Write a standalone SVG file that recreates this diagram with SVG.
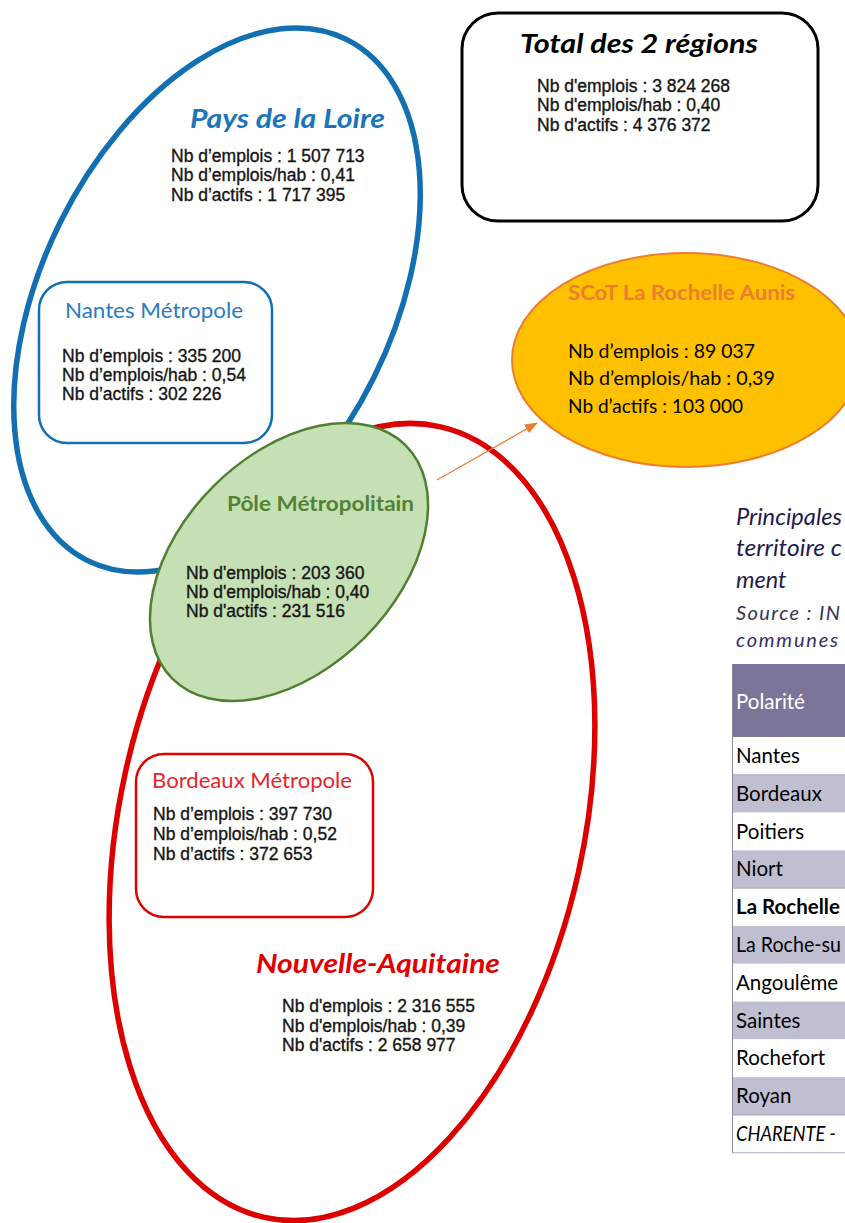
<svg xmlns="http://www.w3.org/2000/svg" width="845" height="1223" viewBox="0 0 845 1223">
<defs>
<marker id="arr" markerWidth="13" markerHeight="10" refX="12" refY="5" orient="auto" markerUnits="userSpaceOnUse"><path d="M0,0 L13,5 L0,10 z" fill="#ED7D31"/></marker>
<style>
.ar{font-family:"Liberation Sans",Arial,sans-serif;font-size:17.5px;fill:#151515;stroke:#151515;stroke-width:0.35px}
.cal{font-family:Lato,"Open Sans",sans-serif}
.bi{font-family:Lato,"Open Sans",sans-serif;font-weight:bold;font-style:italic;font-size:26px}
.tb{font-family:Lato,"Open Sans",sans-serif;font-size:20.5px;fill:#000}
.gray{fill:#C0BFD2}
.white{fill:#fff}
.sep{stroke:#A9A8BC;stroke-width:1}
</style>
</defs>
<rect width="845" height="1223" fill="#fff"/>

<g id="pays-de-la-loire">
<ellipse cx="217" cy="300" rx="175" ry="291" transform="rotate(26.4 217 300)" fill="none" stroke="#1270B2" stroke-width="5.5"/>
<text class="bi" x="190" y="128" fill="#1A75BB" textLength="195" lengthAdjust="spacingAndGlyphs">Pays de la Loire</text>
<text class="ar" x="171" y="162">Nb d’emplois : 1 507 713</text>
<text class="ar" x="171" y="181">Nb d’emplois/hab : 0,41</text>
<text class="ar" x="171" y="201">Nb d’actifs : 1 717 395</text>
</g>

<g id="nouvelle-aquitaine">
<ellipse cx="352" cy="822" rx="232" ry="405" transform="rotate(12.5 352 822)" fill="none" stroke="#DD0000" stroke-width="5.5"/>
<text class="bi" x="256" y="973" fill="#E00000" textLength="244" lengthAdjust="spacingAndGlyphs">Nouvelle-Aquitaine</text>
<text class="ar" x="282" y="1012">Nb d'emplois : 2 316 555</text>
<text class="ar" x="282" y="1032">Nb d'emplois/hab : 0,39</text>
<text class="ar" x="282" y="1051">Nb d'actifs : 2 658 977</text>
</g>

<g id="nantes-metropole">
<rect x="39" y="282" width="233" height="161" rx="28" fill="#fff" stroke="#1270B2" stroke-width="2.5"/>
<text class="cal" x="65" y="318" font-size="21.8" fill="#2B7BBE" textLength="178" lengthAdjust="spacingAndGlyphs">Nantes Métropole</text>
<text class="ar" x="62" y="362">Nb d’emplois : 335 200</text>
<text class="ar" x="62" y="381">Nb d’emplois/hab : 0,54</text>
<text class="ar" x="62" y="400">Nb d’actifs : 302 226</text>
</g>

<g id="bordeaux-metropole">
<rect x="136" y="754" width="237" height="163" rx="28" fill="#fff" stroke="#E00000" stroke-width="2.5"/>
<text class="cal" x="152" y="788" font-size="21.8" fill="#E3262A" textLength="200" lengthAdjust="spacingAndGlyphs">Bordeaux Métropole</text>
<text class="ar" x="153" y="820">Nb d’emplois : 397 730</text>
<text class="ar" x="153" y="840">Nb d’emplois/hab : 0,52</text>
<text class="ar" x="153" y="860">Nb d’actifs : 372 653</text>
</g>

<g id="pole-metropolitain">
<ellipse cx="289" cy="562" rx="107" ry="165" transform="rotate(45 289 562)" fill="#C5E0B4" stroke="#4F7F30" stroke-width="2.5"/>
<text class="cal" x="227" y="511" font-size="21" font-weight="bold" fill="#548235" textLength="187" lengthAdjust="spacingAndGlyphs">Pôle Métropolitain</text>
<text class="ar" x="186" y="579">Nb d'emplois : 203 360</text>
<text class="ar" x="186" y="598">Nb d'emplois/hab : 0,40</text>
<text class="ar" x="186" y="617">Nb d'actifs : 231 516</text>
</g>

<g id="total-des-2-regions">
<rect x="462" y="13" width="356" height="208" rx="36" fill="#fff" stroke="#000" stroke-width="3"/>
<text class="bi" x="639" y="53" text-anchor="middle" fill="#000" textLength="238" lengthAdjust="spacingAndGlyphs">Total des 2 régions</text>
<text class="ar" x="537" y="92">Nb d'emplois : 3 824 268</text>
<text class="ar" x="537" y="111">Nb d'emplois/hab : 0,40</text>
<text class="ar" x="537" y="131">Nb d'actifs : 4 376 372</text>
</g>

<g id="scot-la-rochelle-aunis">
<ellipse cx="686" cy="360" rx="174" ry="107" fill="#FFC000" stroke="#ED7D31" stroke-width="2"/>
<text class="cal" x="568" y="300" font-size="21.5" font-weight="bold" fill="#ED7D31" textLength="227" lengthAdjust="spacingAndGlyphs">SCoT La Rochelle Aunis</text>
<text class="cal" x="568" y="358" font-size="19" fill="#000" textLength="187" lengthAdjust="spacingAndGlyphs">Nb d’emplois : 89 037</text>
<text class="cal" x="568" y="385" font-size="19" fill="#000" textLength="207" lengthAdjust="spacingAndGlyphs">Nb d’emplois/hab : 0,39</text>
<text class="cal" x="568" y="413" font-size="19" fill="#000" textLength="175" lengthAdjust="spacingAndGlyphs">Nb d’actifs : 103 000</text>
</g>

<g id="connectors">
<line x1="437" y1="480" x2="537" y2="423" stroke="#ED7D31" stroke-width="1.3" marker-end="url(#arr)"/>
</g>

<g id="table">
<text class="cal" x="736" y="525" font-size="23.5" font-style="italic" fill="#1F1B4E" textLength="106" lengthAdjust="spacingAndGlyphs">Principales</text>
<text class="cal" x="736" y="556" font-size="23.5" font-style="italic" fill="#1F1B4E" textLength="106" lengthAdjust="spacingAndGlyphs">territoire c</text>
<text class="cal" x="736" y="588" font-size="23.5" font-style="italic" fill="#1F1B4E">ment</text>
<text class="cal" x="736" y="620" font-size="20" font-style="italic" fill="#34335F" textLength="104" lengthAdjust="spacing">Source : IN</text>
<text class="cal" x="736" y="647" font-size="20" font-style="italic" fill="#34335F" textLength="102" lengthAdjust="spacing">communes</text>
<rect x="732" y="664" width="113" height="73" fill="#7B7699"/>
<text class="tb" x="736" y="709" style="fill:#fff">Polarité</text>
<rect class="white" x="732" y="737" width="113" height="37.8"/>
<rect class="gray" x="732" y="774.8" width="113" height="37.8"/>
<rect class="white" x="732" y="812.6" width="113" height="37.8"/>
<rect class="gray" x="732" y="850.4" width="113" height="37.8"/>
<rect class="white" x="732" y="888.2" width="113" height="37.8"/>
<rect class="gray" x="732" y="926" width="113" height="37.8"/>
<rect class="white" x="732" y="963.8" width="113" height="37.8"/>
<rect class="gray" x="732" y="1001.6" width="113" height="37.8"/>
<rect class="white" x="732" y="1039.4" width="113" height="37.8"/>
<rect class="gray" x="732" y="1077.2" width="113" height="37.8"/>
<rect class="white" x="732" y="1115" width="113" height="37.8"/>
<line class="sep" x1="732" y1="774.8" x2="845" y2="774.8"/>
<line class="sep" x1="732" y1="888.2" x2="845" y2="888.2"/>
<line class="sep" x1="732" y1="1115" x2="845" y2="1115"/>
<line class="sep" x1="732" y1="1152.8" x2="845" y2="1152.8"/>
<line x1="732.5" y1="664" x2="732.5" y2="1152.8" stroke="#8C8AA3" stroke-width="1"/>
<text class="tb" x="736" y="763">Nantes</text>
<text class="tb" x="736" y="801">Bordeaux</text>
<text class="tb" x="736" y="839">Poitiers</text>
<text class="tb" x="736" y="876">Niort</text>
<text class="tb" x="736" y="914" font-weight="bold">La Rochelle</text>
<text class="tb" x="736" y="952" textLength="105" lengthAdjust="spacingAndGlyphs">La Roche-su</text>
<text class="tb" x="736" y="990">Angoulême</text>
<text class="tb" x="736" y="1028">Saintes</text>
<text class="tb" x="736" y="1065">Rochefort</text>
<text class="tb" x="736" y="1103">Royan</text>
<text class="tb" x="736" y="1141" font-style="italic" textLength="100" lengthAdjust="spacingAndGlyphs">CHARENTE -</text>
</g>
</svg>
